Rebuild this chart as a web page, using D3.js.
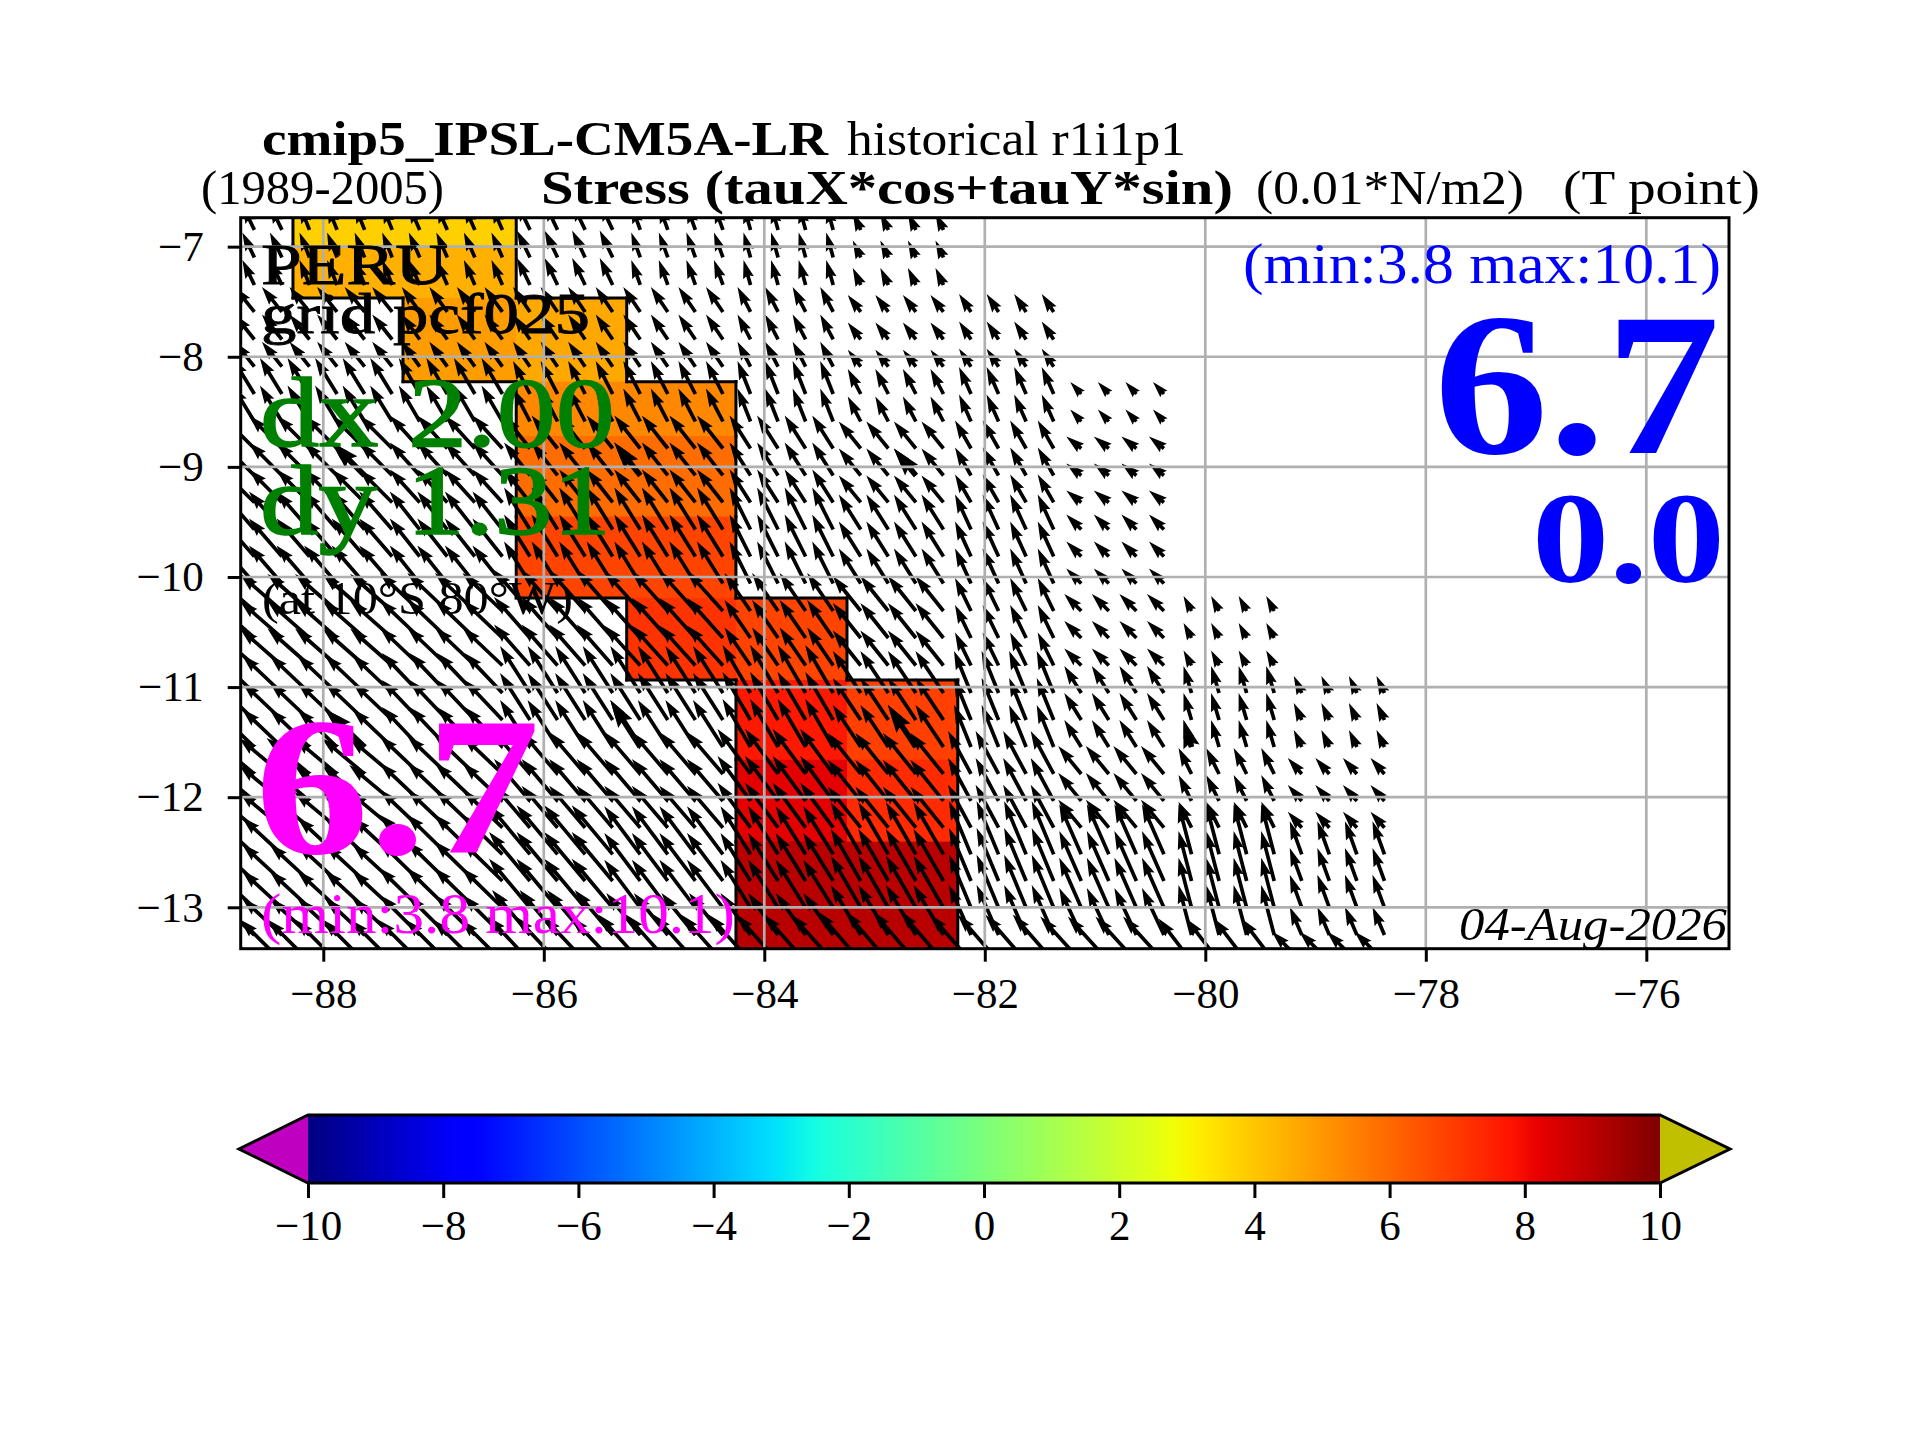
<!DOCTYPE html>
<html>
<head>
<meta charset="utf-8">
<script src="https://cdn.jsdelivr.net/npm/d3@7"></script>
<style>
  body { margin: 0; background: #fff; }
  text { font-family: "Liberation Serif", serif; }
</style>
</head>
<body>
<div id="chart"></div>
<script>
// tick labels
const lonTicks = [-88, -86, -84, -82, -80, -78, -76];
const latTicks = [-7, -8, -9, -10, -11, -12, -13];
const barTicks = [-10, -8, -6, -4, -2, 0, 2, 4, 6, 8, 10];

// box average stress, one value per cell of the coloured patch
const heatLonEdges = [-88.275, -87.277, -86.25, -85.248, -84.257, -83.25, -82.245];
const heatLatEdges = [-6.6, -6.99, -7.466, -8.226, -8.72, -9.452, -10.19, -10.935, -11.66, -12.404, -13.5];
const heatValues = [
  [3.8, 3.8, null, null, null, null],
  [4.47, 4.47, null, null, null, null],
  [null, 4.9, 4.64, null, null, null],
  [null, null, 5.32, 5.32, null, null],
  [null, null, 5.91, 5.91, null, null],
  [null, null, 6.76, 6.76, null, null],
  [null, null, null, 7.12, 6.76, null],
  [null, null, null, null, 7.69, 6.85],
  [null, null, null, null, 8.27, 7.31],
  [null, null, null, null, 9.03, 9.03]
];

// arrow tails
const arrowLons = [-88.625, -88.375, -88.125, -87.875, -87.625, -87.375, -87.125, -86.875, -86.625, -86.375,
  -86.125, -85.875, -85.625, -85.375, -85.125, -84.875, -84.625, -84.375, -84.125, -83.875,
  -83.625, -83.375, -83.125, -82.875, -82.625, -82.375, -82.125, -81.875, -81.625, -81.375,
  -81.125, -80.875, -80.625, -80.375, -80.125, -79.875, -79.625, -79.375, -79.125, -78.875,
  -78.625, -78.375];
const arrowLats = [-6.848, -7.098, -7.348, -7.593, -7.843, -8.09, -8.338, -8.588, -8.833, -9.078,
  -9.323, -9.569, -9.814, -10.059, -10.309, -10.554, -10.804, -11.054, -11.299, -11.544,
  -11.789, -12.034, -12.277, -12.519, -12.761, -13.004, -13.252, -13.492];

// how many arrows share one coarse wind value, along lon and along lat
const lonBlockSizes = [2, 4, 4, 4, 4, 4, 4, 4, 4, 4, 4];
const latBlockSizes = [3, 3, 2, 3, 3, 3, 3, 3, 3, 1, 1];

const tauX = [
  [-1.2, -1.0, -1.1, -1.3, -0.9, -0.7, -0.8, null, null, null, null],
  [-2.0, -2.0, -1.8, -1.7, -1.7, -1.3, -1.3, -1.2, null, null, null],
  [-2.2, -2.2, -2.1, -1.7, -1.7, -1.3, -1.3, -1.2, -1.1, null, null],
  [-3.3, -3.3, -3.0, -2.6, -2.6, -2.1, -2.2, -1.6, -1.5, null, null],
  [-3.3, -3.3, -3.0, -2.6, -2.6, -2.1, -2.2, -1.6, -1.5, null, null],
  [-4.2, -4.2, -4.0, -3.6, -3.6, -2.6, -2.8, -1.6, -1.7, -0.8, null],
  [-4.0, -4.0, -3.8, -3.0, -3.0, -2.8, -2.8, -1.7, -1.7, -0.8, -0.8],
  [-4.3, -4.3, -4.0, -3.6, -3.6, -3.3, -3.3, -2.3, -2.3, -1.3, -1.4],
  [-4.0, -4.0, -4.1, -4.1, -3.6, -3.0, -3.0, -2.2, -2.2, -1.3, -1.2],
  [-4.0, -4.0, -4.0, -3.8, -3.4, -3.0, -3.0, -2.2, -2.2, -1.3, -1.2],
  [-4.2, -4.2, -4.2, -4.2, -4.2, -4.2, -4.3, -4.1, -4.1, -3.3, -3.0]
];
const tauY = [
  [-2.5, -2.5, -2.5, -2.7, -2.5, -2.5, -1.7, null, null, null, null],
  [-2.5, -2.5, -2.5, -2.5, -2.5, -2.5, -1.7, -1.8, null, null, null],
  [-3.6, -3.6, -3.6, -3.3, -3.3, -3.3, -2.5, -2.7, -1.2, null, null],
  [-3.3, -3.3, -3.3, -3.3, -3.3, -3.3, -2.7, -2.8, -1.2, null, null],
  [-3.8, -3.8, -3.8, -4.2, -4.2, -4.2, -3.5, -3.5, -1.5, null, null],
  [-3.7, -3.7, -3.8, -4.1, -4.0, -3.8, -3.5, -3.3, -1.7, -1.5, null],
  [-3.8, -3.8, -4.0, -4.7, -4.7, -4.8, -4.2, -4.2, -2.7, -2.7, -1.7],
  [-3.6, -3.6, -3.8, -4.2, -4.2, -4.5, -4.1, -4.3, -2.8, -2.6, -1.6],
  [-3.7, -3.7, -4.0, -4.9, -4.8, -4.8, -5.2, -5.3, -5.0, -5.0, -3.3],
  [-3.7, -3.7, -4.0, -4.5, -4.2, -4.2, -5.0, -5.0, -4.7, -5.0, -2.8],
  [-4.2, -4.2, -4.2, -4.5, -4.7, -4.7, -5.0, -4.7, -4.5, -4.3, -3.0]
];

// every tenth arrow in both directions is drawn heavier
const heavyLonIdx = [4, 14, 24, 34];
const heavyLatIdx = [9, 19];

const width = 1920;
const height = 1440;

const plot = { left: 240.7, right: 1729, top: 217.7, bottom: 948.7 };
const bar = { left: 308, right: 1660, top: 1115, bottom: 1183, tipLeft: 239, tipRight: 1730 };

const xScale = d3.scaleLinear().domain([-88.749, -75.25]).range([plot.left, plot.right]);
const yScale = d3.scaleLinear().domain([-6.737, -13.376]).range([plot.top, plot.bottom]);
// 1 unit of stress (0.01 N/m2) is 10 px of arrow
const arrowScale = d3.scaleLinear().domain([0, 1]).range([0, 10]);

// jet colour map, -10 to 10
const jetR = d3.scaleLinear().domain([0, 0.35, 0.66, 0.89, 1]).range([0, 0, 255, 255, 128]);
const jetG = d3.scaleLinear().domain([0, 0.125, 0.375, 0.64, 0.91, 1]).range([0, 0, 255, 255, 0, 0]);
const jetB = d3.scaleLinear().domain([0, 0.11, 0.34, 0.65, 1]).range([128, 255, 255, 0, 0]);
const barNorm = d3.scaleLinear().domain([-10, 10]).range([0, 1]);
function jet(v) {
  const t = barNorm(v);
  return d3.rgb(jetR(t), jetG(t), jetB(t)).formatHex();
}

const svg = d3.select("#chart").append("svg")
  .attr("width", width)
  .attr("height", height)
  .style("display", "block");

svg.append("rect").attr("width", width).attr("height", height).attr("fill", "#fff");

const defs = svg.append("defs");

defs.append("clipPath").attr("id", "plot-clip")
  .append("rect")
  .attr("x", plot.left)
  .attr("y", plot.top)
  .attr("width", plot.right - plot.left)
  .attr("height", plot.bottom - plot.top);

defs.append("linearGradient").attr("id", "jet-bar")
  .selectAll("stop")
  .data(d3.range(0, 1.001, 0.01))
  .enter()
  .append("stop")
  .attr("offset", d => d)
  .attr("stop-color", d => jet(barNorm.invert(d)));

const inner = svg.append("g").attr("clip-path", "url(#plot-clip)");

// coloured patch
const cells = [];
heatValues.forEach((row, r) => row.forEach((v, c) => {
  if (v !== null) cells.push({ r, c, v });
}));

inner.selectAll("rect.cell")
  .data(cells)
  .enter()
  .append("rect")
  .attr("class", "cell")
  .attr("x", d => xScale(heatLonEdges[d.c]))
  .attr("y", d => yScale(heatLatEdges[d.r]))
  .attr("width", d => xScale(heatLonEdges[d.c + 1]) - xScale(heatLonEdges[d.c]) + 0.5)
  .attr("height", d => yScale(heatLatEdges[d.r + 1]) - yScale(heatLatEdges[d.r]) + 0.5)
  .attr("fill", d => jet(d.v));

// black outline of the patch, only where a cell has no neighbour
function hasCell(r, c) {
  return r >= 0 && r < heatValues.length && c >= 0 && c < heatValues[0].length && heatValues[r][c] !== null;
}
const edges = [];
cells.forEach(d => {
  const x0 = xScale(heatLonEdges[d.c]), x1 = xScale(heatLonEdges[d.c + 1]);
  const y0 = yScale(heatLatEdges[d.r]), y1 = yScale(heatLatEdges[d.r + 1]);
  if (!hasCell(d.r - 1, d.c)) edges.push([x0, y0, x1, y0]);
  if (!hasCell(d.r + 1, d.c)) edges.push([x0, y1, x1, y1]);
  if (!hasCell(d.r, d.c - 1)) edges.push([x0, y0, x0, y1]);
  if (!hasCell(d.r, d.c + 1)) edges.push([x1, y0, x1, y1]);
});
inner.selectAll("line.edge")
  .data(edges)
  .enter()
  .append("line")
  .attr("class", "edge")
  .attr("x1", d => d[0]).attr("y1", d => d[1])
  .attr("x2", d => d[2]).attr("y2", d => d[3])
  .attr("stroke", "#000")
  .attr("stroke-width", 3)
  .attr("stroke-linecap", "square");

// arrows
function blockIndex(sizes) {
  const out = [];
  sizes.forEach((n, b) => { for (let k = 0; k < n; k++) out.push(b); });
  return out;
}
const lonBlock = blockIndex(lonBlockSizes);
const latBlock = blockIndex(latBlockSizes);

const arrows = [];
arrowLats.forEach((lat, j) => arrowLons.forEach((lon, i) => {
  const u = tauX[latBlock[j]][lonBlock[i]];
  const v = tauY[latBlock[j]][lonBlock[i]];
  if (u === null) return;
  arrows.push({ lon, lat, u, v, heavy: false });
  if (heavyLonIdx.includes(i) && heavyLatIdx.includes(j)) {
    arrows.push({ lon, lat, u, v, heavy: true });
  }
}));

// same proportions as a matplotlib quiver: head 5 wide long, 3 wide across
function arrowPath(d) {
  const w = d.heavy ? 5.6 : 3.7;
  const len = arrowScale(Math.hypot(d.u, d.v));
  const headLen = 5 * w;
  const shrink = Math.min(1, len / headLen);
  const hl = headLen * shrink, ha = 4.5 * w * shrink, hw = 1.5 * w * shrink, sw = 0.5 * w * shrink;
  const shaftEnd = len - ha;
  const tip = len;
  const p = d3.path();
  p.moveTo(0, -sw);
  p.lineTo(shaftEnd, -sw);
  p.lineTo(tip - hl, -hw);
  p.lineTo(tip, 0);
  p.lineTo(tip - hl, hw);
  p.lineTo(shaftEnd, sw);
  p.lineTo(0, sw);
  p.closePath();
  return p.toString();
}

inner.selectAll("path.arrow")
  .data(arrows)
  .enter()
  .append("path")
  .attr("class", "arrow")
  .attr("d", arrowPath)
  .attr("transform", d => {
    // values were read tail to tip on the page, so negative y is north
    const angle = Math.atan2(d.v, d.u) * 180 / Math.PI;
    return `translate(${xScale(d.lon)},${yScale(d.lat)}) rotate(${angle})`;
  })
  .attr("fill", "#000");

// grid over the arrows
inner.selectAll("line.gridx")
  .data(lonTicks)
  .enter()
  .append("line")
  .attr("x1", d => xScale(d)).attr("x2", d => xScale(d))
  .attr("y1", plot.top).attr("y2", plot.bottom)
  .attr("stroke", "#b0b0b0")
  .attr("stroke-width", 2.7);
inner.selectAll("line.gridy")
  .data(latTicks)
  .enter()
  .append("line")
  .attr("x1", plot.left).attr("x2", plot.right)
  .attr("y1", d => yScale(d)).attr("y2", d => yScale(d))
  .attr("stroke", "#b0b0b0")
  .attr("stroke-width", 2.7);

// axes
const tickFmt = d => String(d).replace("-", "\u2212");
const tickFont = 43;

const xAxis = svg.append("g")
  .attr("transform", `translate(0,${plot.bottom})`)
  .call(d3.axisBottom(xScale).tickValues(lonTicks).tickFormat(tickFmt).tickSize(13).tickPadding(16));
const yAxis = svg.append("g")
  .attr("transform", `translate(${plot.left},0)`)
  .call(d3.axisLeft(yScale).tickValues(latTicks).tickFormat(tickFmt).tickSize(13).tickPadding(24));

[xAxis, yAxis].forEach(a => {
  a.select(".domain").remove();
  a.selectAll("line").attr("stroke", "#000").attr("stroke-width", 3);
  a.selectAll("text").attr("font-size", tickFont).attr("font-family", "Liberation Serif").attr("fill", "#000");
});

svg.append("rect")
  .attr("x", plot.left)
  .attr("y", plot.top)
  .attr("width", plot.right - plot.left)
  .attr("height", plot.bottom - plot.top)
  .attr("fill", "none")
  .attr("stroke", "#000")
  .attr("stroke-width", 3);

// colour bar
const barScale = d3.scaleLinear().domain([-10, 10]).range([bar.left, bar.right]);
const barMid = (bar.top + bar.bottom) / 2;

svg.append("rect")
  .attr("x", barScale(-10))
  .attr("y", bar.top)
  .attr("width", barScale(10) - barScale(-10))
  .attr("height", bar.bottom - bar.top)
  .attr("fill", "url(#jet-bar)");

svg.append("polygon")
  .attr("points", `${bar.left},${bar.top} ${bar.tipLeft},${barMid} ${bar.left},${bar.bottom}`)
  .attr("fill", "#c000c0");
svg.append("polygon")
  .attr("points", `${bar.right},${bar.top} ${bar.tipRight},${barMid} ${bar.right},${bar.bottom}`)
  .attr("fill", "#c0c000");
svg.append("polygon")
  .attr("points", `${bar.left},${bar.top} ${bar.right},${bar.top} ${bar.tipRight},${barMid} ${bar.right},${bar.bottom} ${bar.left},${bar.bottom} ${bar.tipLeft},${barMid}`)
  .attr("fill", "none")
  .attr("stroke", "#000")
  .attr("stroke-width", 3);

const barAxis = svg.append("g")
  .attr("transform", `translate(0,${bar.bottom})`)
  .call(d3.axisBottom(barScale).tickValues(barTicks).tickFormat(tickFmt).tickSize(15).tickPadding(11));
barAxis.select(".domain").remove();
barAxis.selectAll("line").attr("stroke", "#000").attr("stroke-width", 3);
barAxis.selectAll("text").attr("font-size", tickFont).attr("font-family", "Liberation Serif").attr("fill", "#000");

// labels, stretched to the width they have in the reference
function label(str, x0, x1, baseline, size, opts = {}) {
  svg.append("text")
    .attr("x", x0)
    .attr("y", baseline)
    .attr("font-size", size)
    .attr("font-weight", opts.bold ? "bold" : "normal")
    .attr("font-style", opts.italic ? "italic" : "normal")
    .attr("fill", opts.color || "#000")
    .attr("stroke", opts.heavy ? (opts.color || "#000") : "none")
    .attr("stroke-width", opts.heavy || 0)
    .attr("textLength", x1 - x0)
    .attr("lengthAdjust", "spacingAndGlyphs")
    .text(str);
}

label("cmip5_IPSL-CM5A-LR", 262, 828, 155, 49, { bold: true });
label("historical r1i1p1", 847, 1186, 155, 49);
label("(1989-2005)", 201, 444, 204, 49);
label("Stress (tauX*cos+tauY*sin)", 541, 1233, 204, 49, { bold: true });
label("(0.01*N/m2)", 1256, 1524, 204, 49);
label("(T point)", 1563, 1760, 204, 49);

label("PERU", 261, 448, 284, 58, { heavy: 0.8 });
label("grid pcf025", 261, 590, 333, 58, { heavy: 0.8 });
label("dx 2.00", 260, 615, 446, 99, { color: "#008000", heavy: 1.5 });
label("dy 1.31", 260, 611, 534, 99, { color: "#008000", heavy: 1.5 });
label("(at 10\u00b0S 80\u00b0W)", 262, 573, 614, 46);

label("6.7", 255, 540, 853, 198, { bold: true, color: "#ff00ff" });
label("(min:3.8 max:10.1)", 261, 735, 933, 58, { color: "#ff00ff" });

label("(min:3.8 max:10.1)", 1243, 1721, 283, 58, { color: "#0000ff" });
label("6.7", 1434, 1720, 453, 204, { bold: true, color: "#0000ff" });
label("0.0", 1532, 1725, 582, 130, { bold: true, color: "#0000ff" });

label("04-Aug-2026", 1459, 1727, 940, 47, { italic: true });
</script>
</body>
</html>
